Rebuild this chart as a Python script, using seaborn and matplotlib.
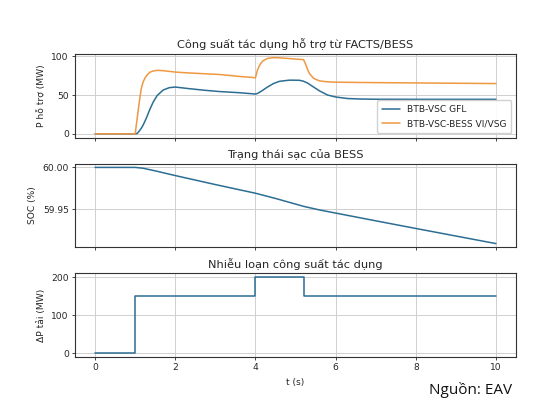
import numpy as np
import pandas as pd
import matplotlib
matplotlib.use("Agg")
import matplotlib.pyplot as plt
import seaborn as sns

# Support power from FACTS/BESS (MW)
t_p = [0, 1.0, 1.05, 1.1, 1.15, 1.2, 1.25, 1.3, 1.37, 1.45, 1.55, 1.7, 1.85, 2.0,
       2.3, 2.7, 3.1, 3.6, 4.0, 4.05, 4.1, 4.15, 4.2, 4.3, 4.45, 4.6, 4.85, 5.1,
       5.2, 5.25, 5.3, 5.35, 5.45, 5.6, 5.8, 6.0, 6.3, 6.6, 7, 8, 9, 10]
p_gfl = [0, 0, 0.5, 3.5, 7, 11.5, 17, 23, 32, 41, 49.5, 56.5, 59.5, 60.3,
         58.5, 56.3, 54.5, 53, 51.3, 52, 53.5, 55, 56.8, 60.3, 64.8, 67.7, 69.2, 69,
         67.8, 66.6, 65.5, 63.8, 60.3, 55.3, 50, 47.5, 45.5, 44.9, 44.6, 44.5, 44.5, 44.5]
p_vsg = [0, 0, 20, 40, 58, 67, 72.5, 76, 79.5, 81, 81.8, 81.4, 80.5, 79.6,
         78.6, 77.5, 76.5, 74, 72.3, 82, 88, 92, 94.5, 97.2, 98.2, 98, 97, 96,
         95.7, 90, 83, 77.5, 71.5, 68.2, 67, 66.6, 66.4, 66.2, 66, 65.6, 65.2, 64.8]

# BESS state of charge (%)
t_soc = [0, 1.0, 1.2, 1.5, 2, 3, 4, 4.5, 5.2, 5.6, 6, 7, 8, 9, 10]
soc = [60.0, 60.0, 59.999, 59.9959, 59.9903, 59.9796, 59.9693, 59.9631, 59.9537,
       59.9494, 59.9457, 59.9365, 59.9274, 59.9184, 59.9094]

# load disturbance (MW), step changes
t_load = [0, 1.0, 4.0, 5.2, 10]
dp_load = [0, 150, 200, 150, 150]

series_names = ["BTB-VSC GFL", "BTB-VSC-BESS VI/VSG"]

sns.set_style("ticks")
plt.rcParams["font.family"] = ["DejaVu Sans"]

blue = "#2c6e93"
orange = "#ef9842"

fig, axes = plt.subplots(3, 1, figsize=(5.56, 4.11), dpi=100, sharex=True)
fig.subplots_adjust(left=0.135, right=0.928, top=0.869, bottom=0.131, hspace=0.31)

df_p = pd.DataFrame({"t": t_p * 2,
                     "P": p_gfl + p_vsg,
                     "case": [series_names[0]] * len(t_p) + [series_names[1]] * len(t_p)})
sns.lineplot(data=df_p, x="t", y="P", hue="case", palette=[blue, orange],
             estimator=None, sort=False, lw=1.1, ax=axes[0])
axes[0].set_title("Công suất tác dụng hỗ trợ từ FACTS/BESS", fontsize=8.2, pad=4)
axes[0].set_ylabel("P hỗ trợ (MW)", fontsize=6.6)
axes[0].set_yticks([0, 50, 100])
axes[0].legend(loc="lower right", fontsize=6.6, title=None, handlelength=2.0,
               borderpad=0.5, labelspacing=0.6, framealpha=0.9, edgecolor="#cccccc")

sns.lineplot(x=t_soc, y=soc, color=blue, lw=1.1, estimator=None, sort=False, ax=axes[1])
axes[1].set_title("Trạng thái sạc của BESS", fontsize=8.2, pad=4)
axes[1].set_ylabel("SOC (%)", fontsize=6.6)
axes[1].set_yticks([59.95, 60.00])
axes[1].yaxis.set_major_formatter(matplotlib.ticker.FormatStrFormatter("%.2f"))

sns.lineplot(x=t_load, y=dp_load, color=blue, lw=1.1, estimator=None, sort=False,
             drawstyle="steps-post", ax=axes[2])
axes[2].set_title("Nhiễu loạn công suất tác dụng", fontsize=8.2, pad=4)
axes[2].set_ylabel("ΔP tải (MW)", fontsize=6.6)
axes[2].set_yticks([0, 100, 200])
axes[2].set_xlabel("t (s)", fontsize=6.6)
axes[2].set_xticks([0, 2, 4, 6, 8, 10])

for ax in axes:
    ax.grid(True, color="#cfcfcf", lw=0.7)
    ax.tick_params(labelsize=6.6, length=2.5, width=0.6, pad=2)
    for s in ax.spines.values():
        s.set_linewidth(0.8)
        s.set_color("#333333")
    ax.set_xlim(-0.5, 10.5)

fig.text(0.921, 0.041, "Nguồn: EAV", ha="right", va="baseline", fontsize=11,
         family=["Open Sans", "DejaVu Sans"], color="#111111")

fig.savefig("out.png", dpi=100)
